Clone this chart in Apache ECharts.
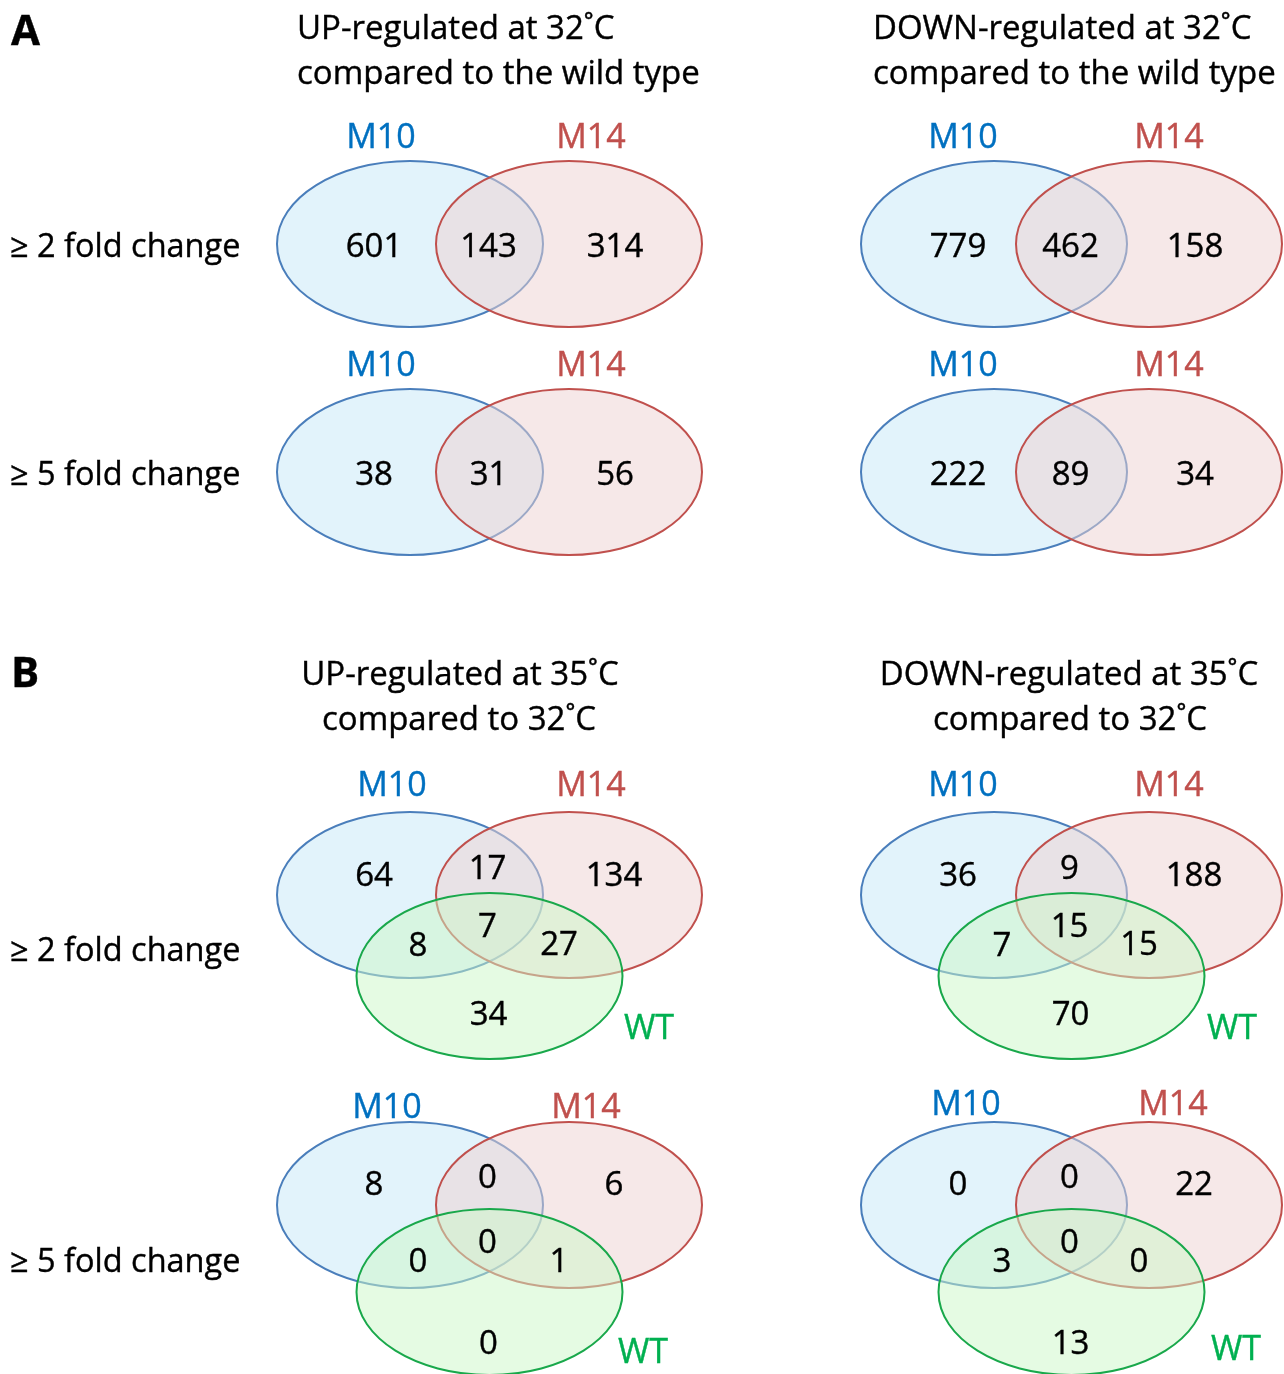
<!DOCTYPE html>
<html>
<head>
<meta charset="utf-8">
<script src="https://cdn.jsdelivr.net/npm/echarts@6/dist/echarts.min.js"></script>
<style>
  html, body { margin: 0; padding: 0; background: #ffffff; }
  #chart { width: 1284px; height: 1374px; }
</style>
</head>
<body>
<div id="chart"></div>
<script>
// ---- Text content ----
const setNames = ['M10', 'M14', 'WT'];
const rowLabels = ['\u2265 2 fold change', '\u2265 5 fold change'];
const panelLetters = ['A', 'B'];
const titlesA = [
  ['UP-regulated at 32\u02DAC', 'compared to the wild type'],
  ['DOWN-regulated at 32\u02DAC', 'compared to the wild type']
];
const titlesB = [
  ['UP-regulated at 35\u02DAC', 'compared to 32\u02DAC'],
  ['DOWN-regulated at 35\u02DAC', 'compared to 32\u02DAC']
];

// ---- Gene counts per Venn region ----
// two-set diagrams: [M10 only, M10 & M14, M14 only]
const up32Fold2   = [601, 143, 314];
const up32Fold5   = [38, 31, 56];
const down32Fold2 = [779, 462, 158];
const down32Fold5 = [222, 89, 34];
// three-set diagrams:
// [M10 only, M10 & M14, M14 only, M10 & WT, M10 & M14 & WT, M14 & WT, WT only]
const up35Fold2   = [64, 17, 134, 8, 7, 27, 34];
const up35Fold5   = [8, 0, 6, 0, 0, 1, 0];
const down35Fold2 = [36, 9, 188, 7, 15, 15, 70];
const down35Fold5 = [0, 0, 22, 3, 0, 0, 13];

// ---- Styling ----
const FONT = '"Open Sans", Lato, sans-serif';
const TEXT_SIZE = 33;
const TY = 3; // vertical nudge so glyphs sit on the visual centre line
const strokeColors = ['#4a7ebb', '#c0504d', '#19a84b'];
const fillColors = ['#e2f3fb', 'rgba(237,209,209,0.5)', 'rgba(203,247,199,0.5)'];
const setTextColors = ['#0070c0', '#c0504d', '#00b050'];

// ---- Layout (canvas pixel units on a hidden value grid) ----
const W = 1284, H = 1374;
const RX = 133, RY = 83;
const cols = [{ bx: 410, dx: 159 }, { bx: 994, dx: 155 }];
// each diagram row: blue centre y, green offset, label offsets
const rows = [
  { by: 244, three: false, setY: -109 },
  { by: 472, three: false, setY: -109 },
  { by: 895, three: true, gdy: 81, setY: -112,
    ly: [-21, -28, -21, 49, 30, 48, 118] },
  { by: 1205, three: true, gdy: 87, setY: -100,
    ly: [-22, -29, -22, 55, 36, 55, 137] }
];
const panelCounts = [
  [up32Fold2, down32Fold2],
  [up32Fold5, down32Fold5],
  [up35Fold2, down35Fold2],
  [up35Fold5, down35Fold5]
];
// set-name label x offsets relative to ellipse centres, per column
const setLabelDx = [[-29, 22], [-31, 20]];
const setLabelDxB = [[[-18, 22], [-31, 20]], [[-23, 17], [-28, 24]]];
const setLabelYFix = [[0, 0], [0, 0], [0, 0], [0, -3]];
const wtLabelPos = [[[649, 1026], [1232, 1026]], [[643, 1350], [1236, 1347]]];

const ellipses = [];
const countPoints = [];
const texts = [];

function addText(str, x, y, opt) {
  const fill = (opt && opt.fill) || '#000';
  texts.push({
    type: 'text',
    x: x, y: y + TY,
    style: Object.assign({
      text: str,
      font: TEXT_SIZE + 'px ' + FONT,
      fill: fill,
      stroke: fill,
      lineWidth: 0.4,
      align: 'center',
      verticalAlign: 'middle'
    }, opt || {})
  });
}

rows.forEach(function (row, r) {
  cols.forEach(function (col, c) {
    const bx = col.bx, by = row.by, dx = col.dx;
    const rxC = bx + dx;
    ellipses.push([bx, by, RX, RY, 0]);
    ellipses.push([rxC, by, RX, RY, 1]);
    const counts = panelCounts[r][c];
    let pos;
    if (!row.three) {
      pos = [[bx - 36, by + 1], [bx + dx / 2 - 1, by + 1], [rxC + 46, by + 1]];
    } else {
      ellipses.push([bx + dx / 2, by + row.gdy, RX, RY, 2]);
      const xs = [bx - 36, bx + dx / 2 - 2, rxC + 45, bx + 8, bx + dx / 2 - 2, rxC - 10, bx + dx / 2 - 1];
      pos = xs.map(function (x, i) { return [x, by + row.ly[i]]; });
    }
    counts.forEach(function (v, i) {
      countPoints.push([pos[i][0], pos[i][1] + TY, v]);
    });
    // set names above the ellipses
    const sdx = row.three ? setLabelDxB[r - 2][c] : setLabelDx[c];
    const sy = by + row.setY + setLabelYFix[r][c];
    addText(setNames[0], bx + sdx[0], sy, { fill: setTextColors[0], font: '34px ' + FONT });
    addText(setNames[1], rxC + sdx[1], sy, { fill: setTextColors[1], font: '34px ' + FONT });
    if (row.three) {
      const wp = wtLabelPos[r - 2][c];
      addText(setNames[2], wp[0], wp[1], { fill: setTextColors[2], font: '34px ' + FONT });
    }
  });
  // row label on the left
  addText(rowLabels[r % 2], 10, rows[r].by + (row.three ? (r === 2 ? 54 : 55) : 1),
    { align: 'left', font: '32.5px ' + FONT });
});

// panel letters
addText(panelLetters[0], 11, 30, { align: 'left', font: 'bold 42px ' + FONT });
addText(panelLetters[1], 11, 672, { align: 'left', font: 'bold 42px ' + FONT });
// panel titles: A titles left aligned, B titles centred
addText(titlesA[0][0], 297, 27, { align: 'left' });
addText(titlesA[0][1], 297, 72, { align: 'left' });
addText(titlesA[1][0], 873, 27, { align: 'left' });
addText(titlesA[1][1], 873, 72, { align: 'left' });
addText(titlesB[0][0], 460, 673);
addText(titlesB[0][1], 459, 718);
addText(titlesB[1][0], 1069, 673);
addText(titlesB[1][1], 1070, 718);

const chart = echarts.init(document.getElementById('chart'), null, { renderer: 'canvas' });
chart.setOption({
  animation: false,
  backgroundColor: '#ffffff',
  grid: { left: 0, top: 0, right: 0, bottom: 0 },
  xAxis: { type: 'value', min: 0, max: W, show: false },
  yAxis: { type: 'value', min: 0, max: H, inverse: true, show: false },
  graphic: { elements: texts },
  series: [
    {
      type: 'custom',
      coordinateSystem: 'cartesian2d',
      data: ellipses,
      silent: true,
      renderItem: function (params, api) {
        const c = api.coord([api.value(0), api.value(1)]);
        const s = api.size([api.value(2), api.value(3)]);
        const k = api.value(4);
        return {
          type: 'ellipse',
          shape: { cx: c[0], cy: c[1], rx: Math.abs(s[0]), ry: Math.abs(s[1]) },
          style: { fill: fillColors[k], stroke: strokeColors[k], lineWidth: 2 }
        };
      }
    },
    {
      type: 'scatter',
      data: countPoints,
      symbolSize: 0,
      silent: true,
      z: 5,
      itemStyle: { opacity: 1 },
      label: {
        show: true,
        position: 'inside',
        color: '#000',
        textBorderColor: '#000',
        textBorderWidth: 0.4,
        fontFamily: FONT,
        fontSize: 33,
        formatter: function (p) { return String(p.value[2]); }
      }
    }
  ]
});
</script>
</body>
</html>
